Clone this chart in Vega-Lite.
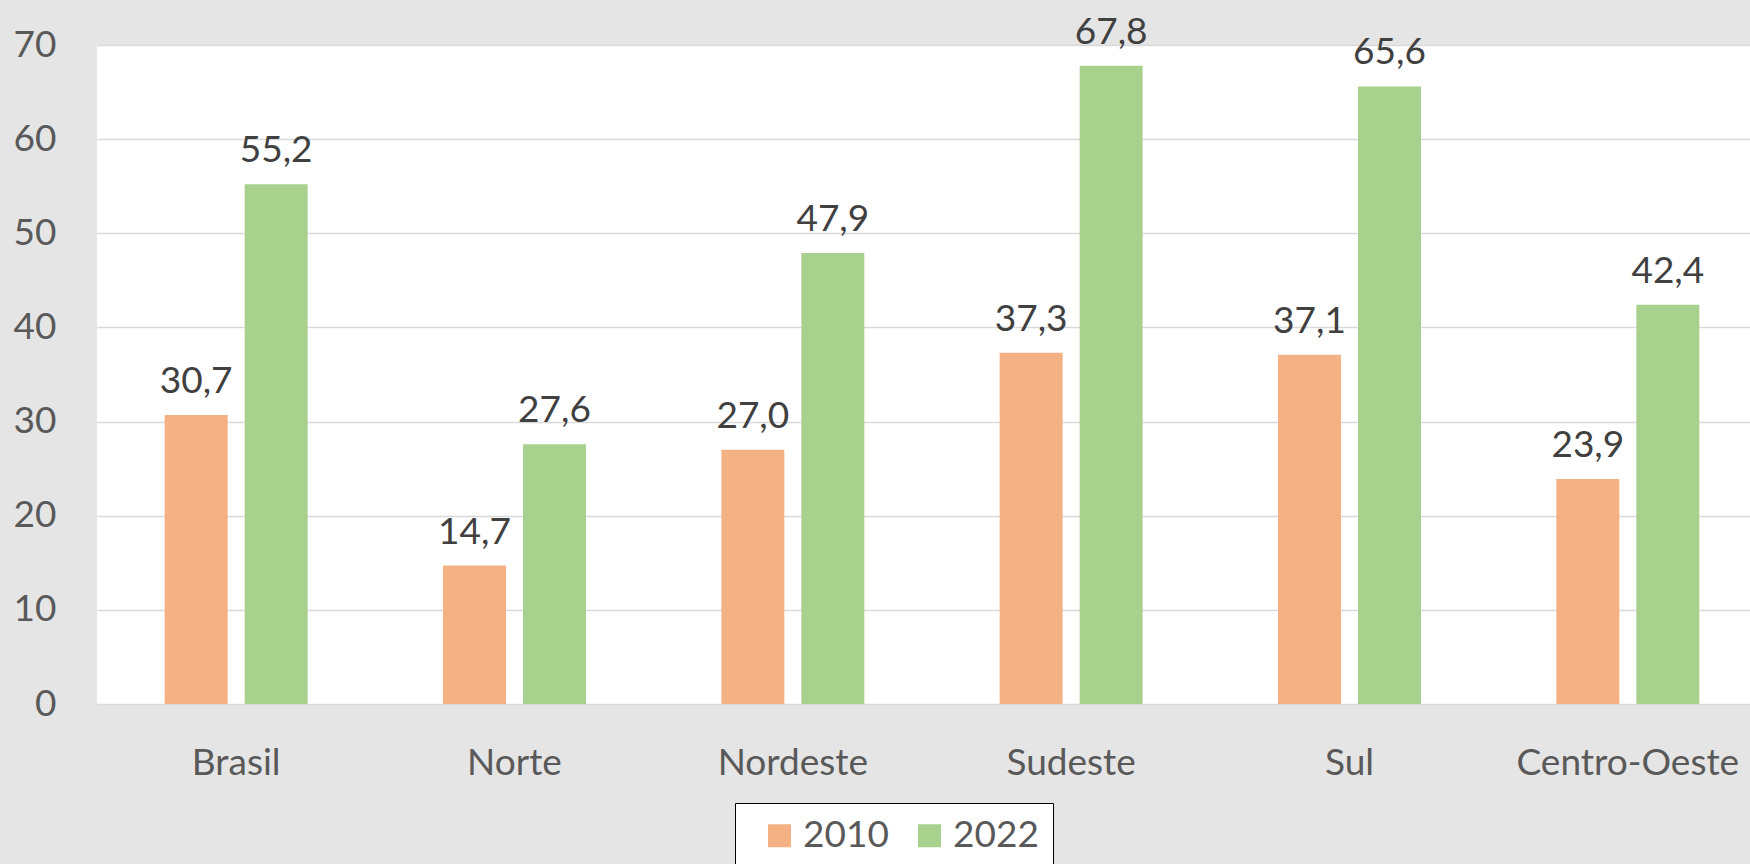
{
  "$schema": "https://vega.github.io/schema/vega-lite/v6.json",
  "autosize": {"type": "none"},
  "padding": {"left": 97, "top": 45, "right": 0, "bottom": 160},
  "width": 1653,
  "height": 659,
  "background": "#e5e5e5",
  "data": {
    "values": [
      {"regiao": "Brasil", "ano": "2010", "valor": 30.7},
      {"regiao": "Brasil", "ano": "2022", "valor": 55.2},
      {"regiao": "Norte", "ano": "2010", "valor": 14.7},
      {"regiao": "Norte", "ano": "2022", "valor": 27.6},
      {"regiao": "Nordeste", "ano": "2010", "valor": 27.0},
      {"regiao": "Nordeste", "ano": "2022", "valor": 47.9},
      {"regiao": "Sudeste", "ano": "2010", "valor": 37.3},
      {"regiao": "Sudeste", "ano": "2022", "valor": 67.8},
      {"regiao": "Sul", "ano": "2010", "valor": 37.1},
      {"regiao": "Sul", "ano": "2022", "valor": 65.6},
      {"regiao": "Centro-Oeste", "ano": "2010", "valor": 23.9},
      {"regiao": "Centro-Oeste", "ano": "2022", "valor": 42.4}
    ]
  },
  "encoding": {
    "x": {
      "field": "regiao",
      "type": "nominal",
      "sort": ["Brasil", "Norte", "Nordeste", "Sudeste", "Sul", "Centro-Oeste"],
      "scale": {"range": [0, 1670], "paddingInner": 0, "paddingOuter": 0},
      "axis": {
        "title": null,
        "ticks": false,
        "tickSize": 0,
        "domain": false,
        "grid": false,
        "labelAngle": 0,
        "labelFontSize": 37,
        "labelColor": "#595959",
        "labelPadding": 70,
        "labelBaseline": "alphabetic",
        "labelLimit": 500,
        "labelOverlap": false
      }
    },
    "xOffset": {
      "field": "ano",
      "type": "nominal",
      "scale": {"paddingInner": 0.2125, "paddingOuter": 0.846}
    },
    "y": {
      "field": "valor",
      "type": "quantitative",
      "scale": {"domain": [0, 70], "nice": false},
      "axis": {
        "title": null,
        "values": [0, 10, 20, 30, 40, 50, 60, 70],
        "format": "d",
        "grid": true,
        "gridColor": "#d9d9d9",
        "gridWidth": 1.5,
        "domain": false,
        "ticks": false,
        "tickSize": 0,
        "labelFontSize": 37,
        "labelColor": "#595959",
        "labelPadding": 41
      }
    }
  },
  "layer": [
    {
      "mark": {"type": "bar"},
      "encoding": {
        "color": {
          "field": "ano",
          "type": "nominal",
          "scale": {"domain": ["2010", "2022"], "range": ["#F4B183", "#A9D18E"]},
          "legend": {
            "title": null,
            "orient": "none",
            "legendX": 638,
            "legendY": 758,
            "direction": "horizontal",
            "fillColor": "white",
            "strokeColor": "black",
            "padding": 14,
            "symbolType": "square",
            "symbolSize": 529,
            "symbolStrokeWidth": 0,
            "symbolOffset": 12,
            "labelOffset": 5,
            "columnPadding": 10,
            "labelFontSize": 37,
            "labelColor": "#595959"
          }
        }
      }
    },
    {
      "mark": {
        "type": "text",
        "fontSize": 37,
        "color": "#404040",
        "baseline": "alphabetic",
        "align": "center",
        "dy": -22
      },
      "encoding": {
        "text": {"field": "valor", "type": "quantitative", "format": ".1f"}
      }
    }
  ],
  "config": {
    "font": "Lato",
    "view": {"fill": "white", "stroke": null},
    "locale": {
      "number": {"decimal": ",", "thousands": ".", "grouping": [3], "currency": ["R$", ""]}
    }
  }
}
